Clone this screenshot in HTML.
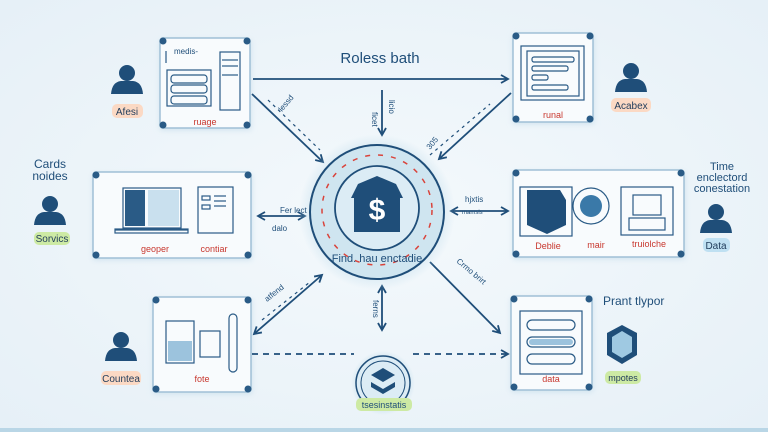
<!DOCTYPE html>
<html><head><meta charset="utf-8"><style>
html,body{margin:0;padding:0;width:768px;height:432px;overflow:hidden;background:#eef5fa}
svg{display:block}
text{font-family:"Liberation Sans",sans-serif}
</style></head><body>
<svg width="768" height="432" viewBox="0 0 768 432" xmlns="http://www.w3.org/2000/svg">
<defs>
<radialGradient id="bg" cx="50%" cy="50%" r="70%"><stop offset="0" stop-color="#f4f9fc"/><stop offset="1" stop-color="#e6f0f7"/></radialGradient>
<radialGradient id="glow" cx="50%" cy="50%" r="50%"><stop offset="0.6" stop-color="#bfdceb"/><stop offset="1" stop-color="#bfdceb" stop-opacity="0"/></radialGradient>
<marker id="ah" markerWidth="10" markerHeight="10" refX="8" refY="5" orient="auto-start-reverse" markerUnits="userSpaceOnUse"><path d="M1,1 L8,5 L1,9" fill="none" stroke="#1f4e79" stroke-width="1.8"/></marker>
<filter id="sh" x="-20%" y="-20%" width="140%" height="140%"><feGaussianBlur stdDeviation="3"/></filter>
<g id="person"><circle cx="0" cy="-9" r="8" fill="#1f4e79"/><path d="M-16,12 Q-15,0 -6,-1 L6,-1 Q15,0 16,12 Z" fill="#1f4e79"/></g>
</defs>
<rect width="768" height="432" fill="url(#bg)"/>
<rect x="0" y="428" width="768" height="4" fill="#b9d6e6"/>

<!-- boxes shadows -->
<g fill="#cfe2ee" filter="url(#sh)">
<rect x="160" y="40" width="91" height="90"/><rect x="513" y="35" width="81" height="89"/>
<rect x="93" y="174" width="159" height="86"/><rect x="513" y="172" width="172" height="87"/>
<rect x="153" y="299" width="99" height="95"/><rect x="511" y="298" width="82" height="94"/>
</g>
<g fill="#f8fbfd" stroke="#9fc0d6" stroke-width="1.5">
<rect x="160" y="38" width="90" height="90" rx="3"/><rect x="513" y="33" width="80" height="89" rx="3"/>
<rect x="93" y="172" width="158" height="86" rx="3"/><rect x="513" y="170" width="171" height="87" rx="3"/>
<rect x="153" y="297" width="98" height="95" rx="3"/><rect x="511" y="296" width="81" height="94" rx="3"/>
</g>
<g fill="#2a5b86">
<circle cx="163" cy="41" r="3.5"/><circle cx="247" cy="41" r="3.5"/><circle cx="163" cy="125" r="3.5"/><circle cx="247" cy="125" r="3.5"/>
<circle cx="516" cy="36" r="3.5"/><circle cx="590" cy="36" r="3.5"/><circle cx="516" cy="119" r="3.5"/><circle cx="590" cy="119" r="3.5"/>
<circle cx="96" cy="175" r="3.5"/><circle cx="248" cy="175" r="3.5"/><circle cx="96" cy="255" r="3.5"/><circle cx="248" cy="255" r="3.5"/>
<circle cx="516" cy="173" r="3.5"/><circle cx="681" cy="173" r="3.5"/><circle cx="516" cy="254" r="3.5"/><circle cx="681" cy="254" r="3.5"/>
<circle cx="156" cy="300" r="3.5"/><circle cx="248" cy="300" r="3.5"/><circle cx="156" cy="389" r="3.5"/><circle cx="248" cy="389" r="3.5"/>
<circle cx="514" cy="299" r="3.5"/><circle cx="589" cy="299" r="3.5"/><circle cx="514" cy="387" r="3.5"/><circle cx="589" cy="387" r="3.5"/>
</g>

<!-- box contents -->
<g fill="none" stroke="#2a5b86" stroke-width="1.2">
<!-- top-left -->
<line x1="166" y1="51" x2="166" y2="63"/>
<rect x="167" y="70" width="44" height="36"/><rect x="171" y="75" width="36" height="8" rx="3"/><rect x="171" y="85" width="36" height="8" rx="3"/><rect x="171" y="96" width="36" height="8" rx="3"/>
<rect x="220" y="52" width="20" height="58"/><line x1="222" y1="60" x2="238" y2="60"/><line x1="222" y1="66" x2="238" y2="66"/><line x1="222" y1="75" x2="238" y2="75"/>
<!-- top-right -->
<rect x="521" y="46" width="63" height="54"/><rect x="527" y="51" width="52" height="45"/>
<rect x="532" y="57" width="42" height="5" rx="2"/><rect x="532" y="66" width="36" height="5" rx="2"/><rect x="532" y="75" width="16" height="5" rx="2"/><rect x="532" y="85" width="36" height="5" rx="2"/>
<!-- left mid -->
<rect x="123" y="188" width="58" height="40"/><line x1="115" y1="230" x2="188" y2="230"/><rect x="115" y="229" width="73" height="4"/>
<rect x="198" y="187" width="35" height="46"/><rect x="202" y="196" width="8" height="4"/><rect x="202" y="205" width="8" height="4"/><line x1="214" y1="196" x2="226" y2="196"/><line x1="214" y1="201" x2="226" y2="201"/><line x1="214" y1="206" x2="226" y2="206"/>
<!-- right mid -->
<rect x="520" y="187" width="52" height="49"/>
<rect x="621" y="187" width="52" height="48"/><rect x="633" y="195" width="28" height="20"/><rect x="629" y="218" width="36" height="12"/>
<circle cx="591" cy="206" r="18"/>
<!-- bottom-left -->
<rect x="166" y="321" width="28" height="42"/><rect x="200" y="331" width="20" height="26"/><rect x="229" y="314" width="8" height="58" rx="4"/>
<!-- bottom-right -->
<rect x="520" y="311" width="62" height="63"/><rect x="527" y="320" width="48" height="10" rx="5"/><rect x="527" y="337" width="48" height="10" rx="5"/><rect x="527" y="354" width="48" height="10" rx="5"/>
</g>
<rect x="125" y="190" width="20" height="36" fill="#2a5b86"/><rect x="148" y="190" width="31" height="36" fill="#c9e0ee"/>
<path d="M527,190 L560,190 L566,200 L566,225 L547,234 L527,225 Z" fill="#1f4e79"/>
<circle cx="591" cy="206" r="11" fill="#3a79a8"/>
<rect x="168" y="341" width="24" height="20" fill="#9cc3dd"/>
<rect x="529" y="339" width="44" height="6" rx="3" fill="#9cc3dd"/>

<!-- connectors -->
<g stroke="#1f4e79" stroke-width="1.8" fill="none">
<line x1="253" y1="79" x2="508" y2="79" marker-end="url(#ah)"/>
<line x1="252" y1="94" x2="323" y2="162" marker-end="url(#ah)"/>
<line x1="511" y1="93" x2="439" y2="159" marker-end="url(#ah)"/>
<line x1="382" y1="90" x2="382" y2="135" marker-end="url(#ah)"/>
<line x1="258" y1="216" x2="305" y2="216" marker-start="url(#ah)" marker-end="url(#ah)"/>
<line x1="451" y1="211" x2="508" y2="211" marker-start="url(#ah)" marker-end="url(#ah)"/>
<line x1="254" y1="334" x2="322" y2="275" marker-start="url(#ah)" marker-end="url(#ah)"/>
<line x1="430" y1="262" x2="500" y2="333" marker-end="url(#ah)"/>
<line x1="382" y1="286" x2="382" y2="330" marker-start="url(#ah)" marker-end="url(#ah)"/>
<line x1="252" y1="354" x2="354" y2="354" stroke-dasharray="6,5"/>
<line x1="413" y1="354" x2="508" y2="354" stroke-dasharray="6,5" marker-end="url(#ah)"/>
</g>
<g stroke="#1f4e79" stroke-width="1.2" stroke-dasharray="3,4">
<line x1="268" y1="100" x2="320" y2="150"/><line x1="430" y1="155" x2="490" y2="104"/><line x1="262" y1="320" x2="310" y2="282"/>
</g>

<!-- center -->
<circle cx="377" cy="212" r="78" fill="url(#glow)"/>
<circle cx="377" cy="212" r="67" fill="#cfe5f0" stroke="#1f4e79" stroke-width="2"/>
<circle cx="377" cy="208" r="42" fill="#dcecf5" stroke="#1f4e79" stroke-width="1.8"/>
<path d="M351,198 L358,184 L377,176 L396,184 L403,198 L400,198 L400,232 L354,232 L354,198 Z" fill="#1f4e79"/>
<text x="377" y="220" font-size="30" font-weight="bold" fill="#fff" text-anchor="middle">$</text>
<g stroke="#d9433b" stroke-width="1.5" stroke-dasharray="5,8" fill="none"><circle cx="377" cy="210" r="55"/></g>
<text x="377" y="262" font-size="11" fill="#1f4e79" text-anchor="middle">Find. hau enctadie</text>

<circle cx="383" cy="383" r="32" fill="url(#glow)"/>
<circle cx="383" cy="383" r="27" fill="#dcecf5" stroke="#1f4e79" stroke-width="1.5"/>
<circle cx="383" cy="383" r="22" fill="none" stroke="#1f4e79" stroke-width="1"/>
<path d="M371,375 L383,368 L395,375 L383,382 Z M371,382 L383,389 L395,382 L395,387 L383,394 L371,387 Z" fill="#1f4e79"/>
<rect x="356" y="398" width="56" height="13" rx="5" fill="#cdeaa4"/>
<text x="384" y="408" font-size="9" fill="#1f4e79" text-anchor="middle">tsesinstatis</text>

<!-- hexagon -->
<path d="M622,325 L637,333 L637,355 L622,364 L607,355 L607,333 Z" fill="#1f4e79"/>
<path d="M622,331 L632,337 L632,352 L622,358 L612,352 L612,337 Z" fill="#9fc9e2"/>

<!-- persons -->
<use href="#person" transform="translate(127,82)"/>
<use href="#person" transform="translate(631,80)"/>
<use href="#person" transform="translate(50,213)"/>
<use href="#person" transform="translate(716,221)"/>
<use href="#person" transform="translate(121,349)"/>

<!-- labels -->
<text x="380" y="63" font-size="15" fill="#1f4e79" text-anchor="middle">Roless bath</text>
<rect x="112" y="104" width="31" height="14" rx="5" fill="#fbd9c4"/><text x="127" y="115" font-size="10" fill="#1f3b5a" text-anchor="middle">Afesi</text>
<rect x="611" y="98" width="40" height="14" rx="5" fill="#fbd9c4"/><text x="631" y="109" font-size="10" fill="#1f3b5a" text-anchor="middle">Acabex</text>
<rect x="101" y="371" width="40" height="14" rx="5" fill="#fbd9c4"/><text x="121" y="382" font-size="10" fill="#1f3b5a" text-anchor="middle">Countea</text>
<rect x="34" y="232" width="36" height="13" rx="5" fill="#cdeaa4"/><text x="52" y="242" font-size="10" fill="#1f3b5a" text-anchor="middle">Sorvics</text>
<rect x="703" y="238" width="27" height="14" rx="5" fill="#bfe0f2"/><text x="716" y="249" font-size="10" fill="#1f3b5a" text-anchor="middle">Data</text>
<rect x="605" y="371" width="36" height="13" rx="5" fill="#cdeaa4"/><text x="623" y="381" font-size="9" fill="#1f3b5a" text-anchor="middle">mpotes</text>
<text x="50" y="168" font-size="12" fill="#1f4e79" text-anchor="middle">Cards</text>
<text x="50" y="180" font-size="12" fill="#1f4e79" text-anchor="middle">noides</text>
<text x="722" y="170" font-size="11" fill="#1f4e79" text-anchor="middle">Time</text>
<text x="722" y="181" font-size="11" fill="#1f4e79" text-anchor="middle">enclectord</text>
<text x="722" y="192" font-size="11" fill="#1f4e79" text-anchor="middle">conestation</text>
<text x="603" y="305" font-size="12" fill="#1f4e79">Prant tlypor</text>
<g font-size="9" fill="#c8382f" text-anchor="middle">
<text x="205" y="125">ruage</text><text x="553" y="118">runal</text>
<text x="155" y="252">geoper</text><text x="214" y="252">contiar</text>
<text x="548" y="249">Deblie</text><text x="596" y="248">mair</text><text x="649" y="247">truiolche</text>
<text x="202" y="382">fote</text><text x="551" y="382">data</text>
</g>
<g font-size="8" fill="#1f4e79">
<text x="174" y="54">medis-</text><text x="280" y="213">Fer lect</text><text x="272" y="231">dalo</text>
<text x="465" y="202">hjxtis</text><text x="462" y="214" font-size="6">mamsls</text>
<text x="456" y="262" transform="rotate(40 456 262)">Crmo brirt</text>
<text x="267" y="302" transform="rotate(-38 267 302)">atfend</text>
<text x="282" y="112" transform="rotate(-50 282 112)">lessd</text>
<text x="430" y="150" transform="rotate(-50 430 150)">305</text>
<text x="372" y="112" transform="rotate(90 372 112)">ficet</text>
<text x="389" y="100" transform="rotate(90 389 100)">licio</text>
<text x="373" y="300" transform="rotate(90 373 300)">ferns</text>
</g>
</svg>
</body></html>
